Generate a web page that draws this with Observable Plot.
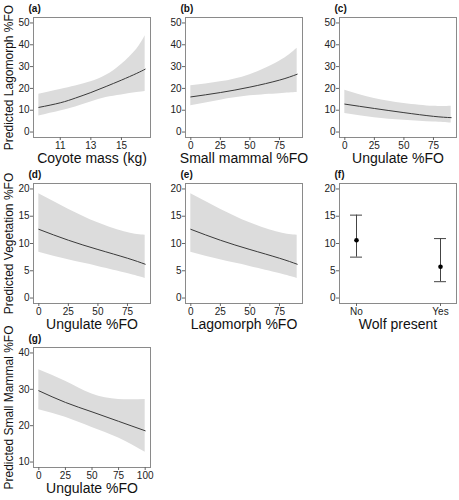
<!DOCTYPE html>
<html><head><meta charset="utf-8">
<script src="https://cdn.jsdelivr.net/npm/d3@7"></script>
<script src="https://cdn.jsdelivr.net/npm/@observablehq/plot@0.6"></script>
<style>
body{margin:0;background:#fff;font-family:"Liberation Sans",Arial,sans-serif}
#root{position:relative;width:459px;height:500px;overflow:hidden}
.p{position:absolute}
</style></head><body><div id="root"></div>
<script>
// (a) Lagomorph vs coyote mass
const aX = [9.6, 11, 12, 13, 14, 15, 16, 16.55];
const aFit = [11.3, 13.4, 15.6, 18.1, 20.9, 23.8, 26.9, 28.8];
const aLo = [7.4, 9.7, 11.5, 13.8, 15.8, 17.0, 18.1, 18.6];
const aHi = [17.3, 19.5, 21.1, 23.0, 26.0, 31.0, 38.0, 44.1];
// (b) Lagomorph vs small mammal %FO
const bX = [0, 25, 50, 75, 90];
const bFit = [16.1, 18.1, 20.6, 23.8, 26.5];
const bLo = [12.0, 14.6, 16.6, 17.6, 18.1];
const bHi = [21.2, 23.0, 26.3, 32.4, 38.4];
// (c) Lagomorph vs ungulate %FO
const cX = [0, 25, 50, 75, 90];
const cFit = [12.8, 10.8, 8.9, 7.2, 6.6];
const cLo = [8.5, 6.6, 5.4, 4.6, 4.1];
const cHi = [19.2, 15.4, 13.1, 11.8, 11.8];
// (d) Vegetation vs ungulate %FO
const dX = [0, 25, 50, 75, 90];
const dFit = [12.6, 10.6, 8.9, 7.3, 6.2];
const dLo = [8.4, 7.0, 5.8, 4.5, 3.6];
const dHi = [19.1, 16.3, 13.8, 12.0, 11.5];
// (e) Vegetation vs lagomorph %FO
const eX = [0, 25, 50, 75, 90];
const eFit = [12.6, 10.6, 8.9, 7.3, 6.2];
const eLo = [8.4, 7.0, 5.8, 4.5, 3.6];
const eHi = [19.1, 16.3, 13.8, 12.0, 11.5];
// (f) Vegetation vs wolf presence
const fCat = ["No", "Yes"];
const fFit = [10.6, 5.75];
const fLo = [7.5, 3.0];
const fHi = [15.2, 10.9];
// (g) Small mammal vs ungulate %FO
const gX = [0, 25, 50, 75, 100];
const gFit = [29.6, 26.4, 23.8, 21.2, 18.6];
const gLo = [24.4, 22.3, 19.5, 16.6, 12.7];
const gHi = [35.4, 32.2, 28.7, 27.2, 27.2];

const ticks50 = [0, 10, 20, 30, 40, 50];
const ticks20 = [0, 5, 10, 15, 20];
const ticks40 = [10, 20, 30, 40];
const pctTicks = [0, 25, 50, 75];

const FONT = "'Liberation Sans', Arial, Helvetica, sans-serif";
const root = document.getElementById("root");

function common(tag, xlabel, ylabel) {
  const m = [
    Plot.text([tag], {frameAnchor: "top-left", dx: -5, dy: -9, textAnchor: "start", lineAnchor: "middle", fontWeight: "bold", fontSize: 10, fill: "#111"}),
    Plot.text([xlabel], {frameAnchor: "bottom", dy: 21, textAnchor: "middle", lineAnchor: "middle", fontSize: 14, fill: "#111"})
  ];
  if (ylabel) m.push(Plot.text([ylabel], {frameAnchor: "left", dx: -24, rotate: -90, textAnchor: "middle", lineAnchor: "middle", fontSize: 12, fill: "#111"}));
  return m;
}

function place(svg, left, top) {
  const d = document.createElement("div");
  d.className = "p";
  d.style.left = left + "px";
  d.style.top = top + "px";
  d.appendChild(svg);
  root.appendChild(d);
}

const base = {width: 153, height: 166, marginLeft: 33, marginRight: 3, marginTop: 17, marginBottom: 29,
  style: {fontFamily: FONT, background: "transparent", overflow: "visible"}};

function curvePanel({left, top, tag, xlabel, ylabel, xDomain, xTicks, yDomain, yTicks, xs, fit, lo, hi}) {
  const rows = xs.map((v, i) => ({x: v, fit: fit[i], lo: lo[i], hi: hi[i]}));
  const svg = Plot.plot({
    ...base,
    x: {domain: xDomain, label: null},
    y: {domain: yDomain, label: null},
    marks: [
      Plot.areaY(rows, {x: "x", y1: "lo", y2: "hi", fill: "#dcdcdc", curve: "natural"}),
      Plot.lineY(rows, {x: "x", y: "fit", stroke: "#3a3a3a", strokeWidth: 1, curve: "natural"}),
      Plot.frame({stroke: "#8a8a8a"}),
      Plot.axisX({ticks: xTicks, tickSize: 3, tickPadding: 1, fontSize: 10, stroke: "#666", fill: "#222", label: null}),
      Plot.axisY({ticks: yTicks, tickSize: 3, tickPadding: 1, fontSize: 10, stroke: "#666", fill: "#222", label: null}),
      ...common(tag, xlabel, ylabel)
    ]
  });
  place(svg, left, top);
}

curvePanel({left: 0, top: 0, tag: "(a)", xlabel: "Coyote mass (kg)", ylabel: "Predicted Lagomorph %FO",
  xDomain: [9.25, 16.9], xTicks: [11, 13, 15], yDomain: [-2.5, 52.5], yTicks: ticks50, xs: aX, fit: aFit, lo: aLo, hi: aHi});
curvePanel({left: 152, top: 0, tag: "(b)", xlabel: "Small mammal %FO", ylabel: null,
  xDomain: [-4.5, 94.5], xTicks: pctTicks, yDomain: [-2.5, 52.5], yTicks: ticks50, xs: bX, fit: bFit, lo: bLo, hi: bHi});
curvePanel({left: 306, top: 0, tag: "(c)", xlabel: "Ungulate %FO", ylabel: null,
  xDomain: [-4.5, 94.5], xTicks: pctTicks, yDomain: [-2.5, 52.5], yTicks: ticks50, xs: cX, fit: cFit, lo: cLo, hi: cHi});
curvePanel({left: 0, top: 166, tag: "(d)", xlabel: "Ungulate %FO", ylabel: "Predicted Vegetation %FO",
  xDomain: [-4.5, 94.5], xTicks: pctTicks, yDomain: [-1, 21], yTicks: ticks20, xs: dX, fit: dFit, lo: dLo, hi: dHi});
curvePanel({left: 152, top: 166, tag: "(e)", xlabel: "Lagomorph %FO", ylabel: null,
  xDomain: [-4.5, 94.5], xTicks: pctTicks, yDomain: [-1, 21], yTicks: ticks20, xs: eX, fit: eFit, lo: eLo, hi: eHi});
curvePanel({left: 0, top: 330, tag: "(g)", xlabel: "Ungulate %FO", ylabel: "Predicted Small Mammal %FO",
  xDomain: [-5, 105], xTicks: [0, 25, 50, 75, 100], yDomain: [8.5, 41.5], yTicks: ticks40, xs: gX, fit: gFit, lo: gLo, hi: gHi});

// (f) categorical panel with error bars
{
  const rows = fCat.map((c, i) => ({w: c, fit: fFit[i], lo: fLo[i], hi: fHi[i]}));
  const svg = Plot.plot({
    ...base,
    x: {type: "band", domain: fCat, paddingInner: 0.859, paddingOuter: 0.118, align: 0.5, label: null},
    y: {domain: [-1, 21], label: null},
    marks: [
      Plot.ruleX(rows, {x: "w", y1: "lo", y2: "hi", stroke: "#444", strokeWidth: 1}),
      Plot.tickY(rows, {x: "w", y: "lo", stroke: "#444", strokeWidth: 1}),
      Plot.tickY(rows, {x: "w", y: "hi", stroke: "#444", strokeWidth: 1}),
      Plot.dot(rows, {x: "w", y: "fit", r: 2.3, fill: "#000", stroke: null}),
      Plot.frame({stroke: "#8a8a8a"}),
      Plot.axisX({tickSize: 3, tickPadding: 1, fontSize: 10, stroke: "#666", fill: "#222", label: null}),
      Plot.axisY({ticks: ticks20, tickSize: 3, tickPadding: 1, fontSize: 10, stroke: "#666", fill: "#222", label: null}),
      ...common("(f)", "Wolf present", null)
    ]
  });
  place(svg, 306, 166);
}
</script></body></html>
